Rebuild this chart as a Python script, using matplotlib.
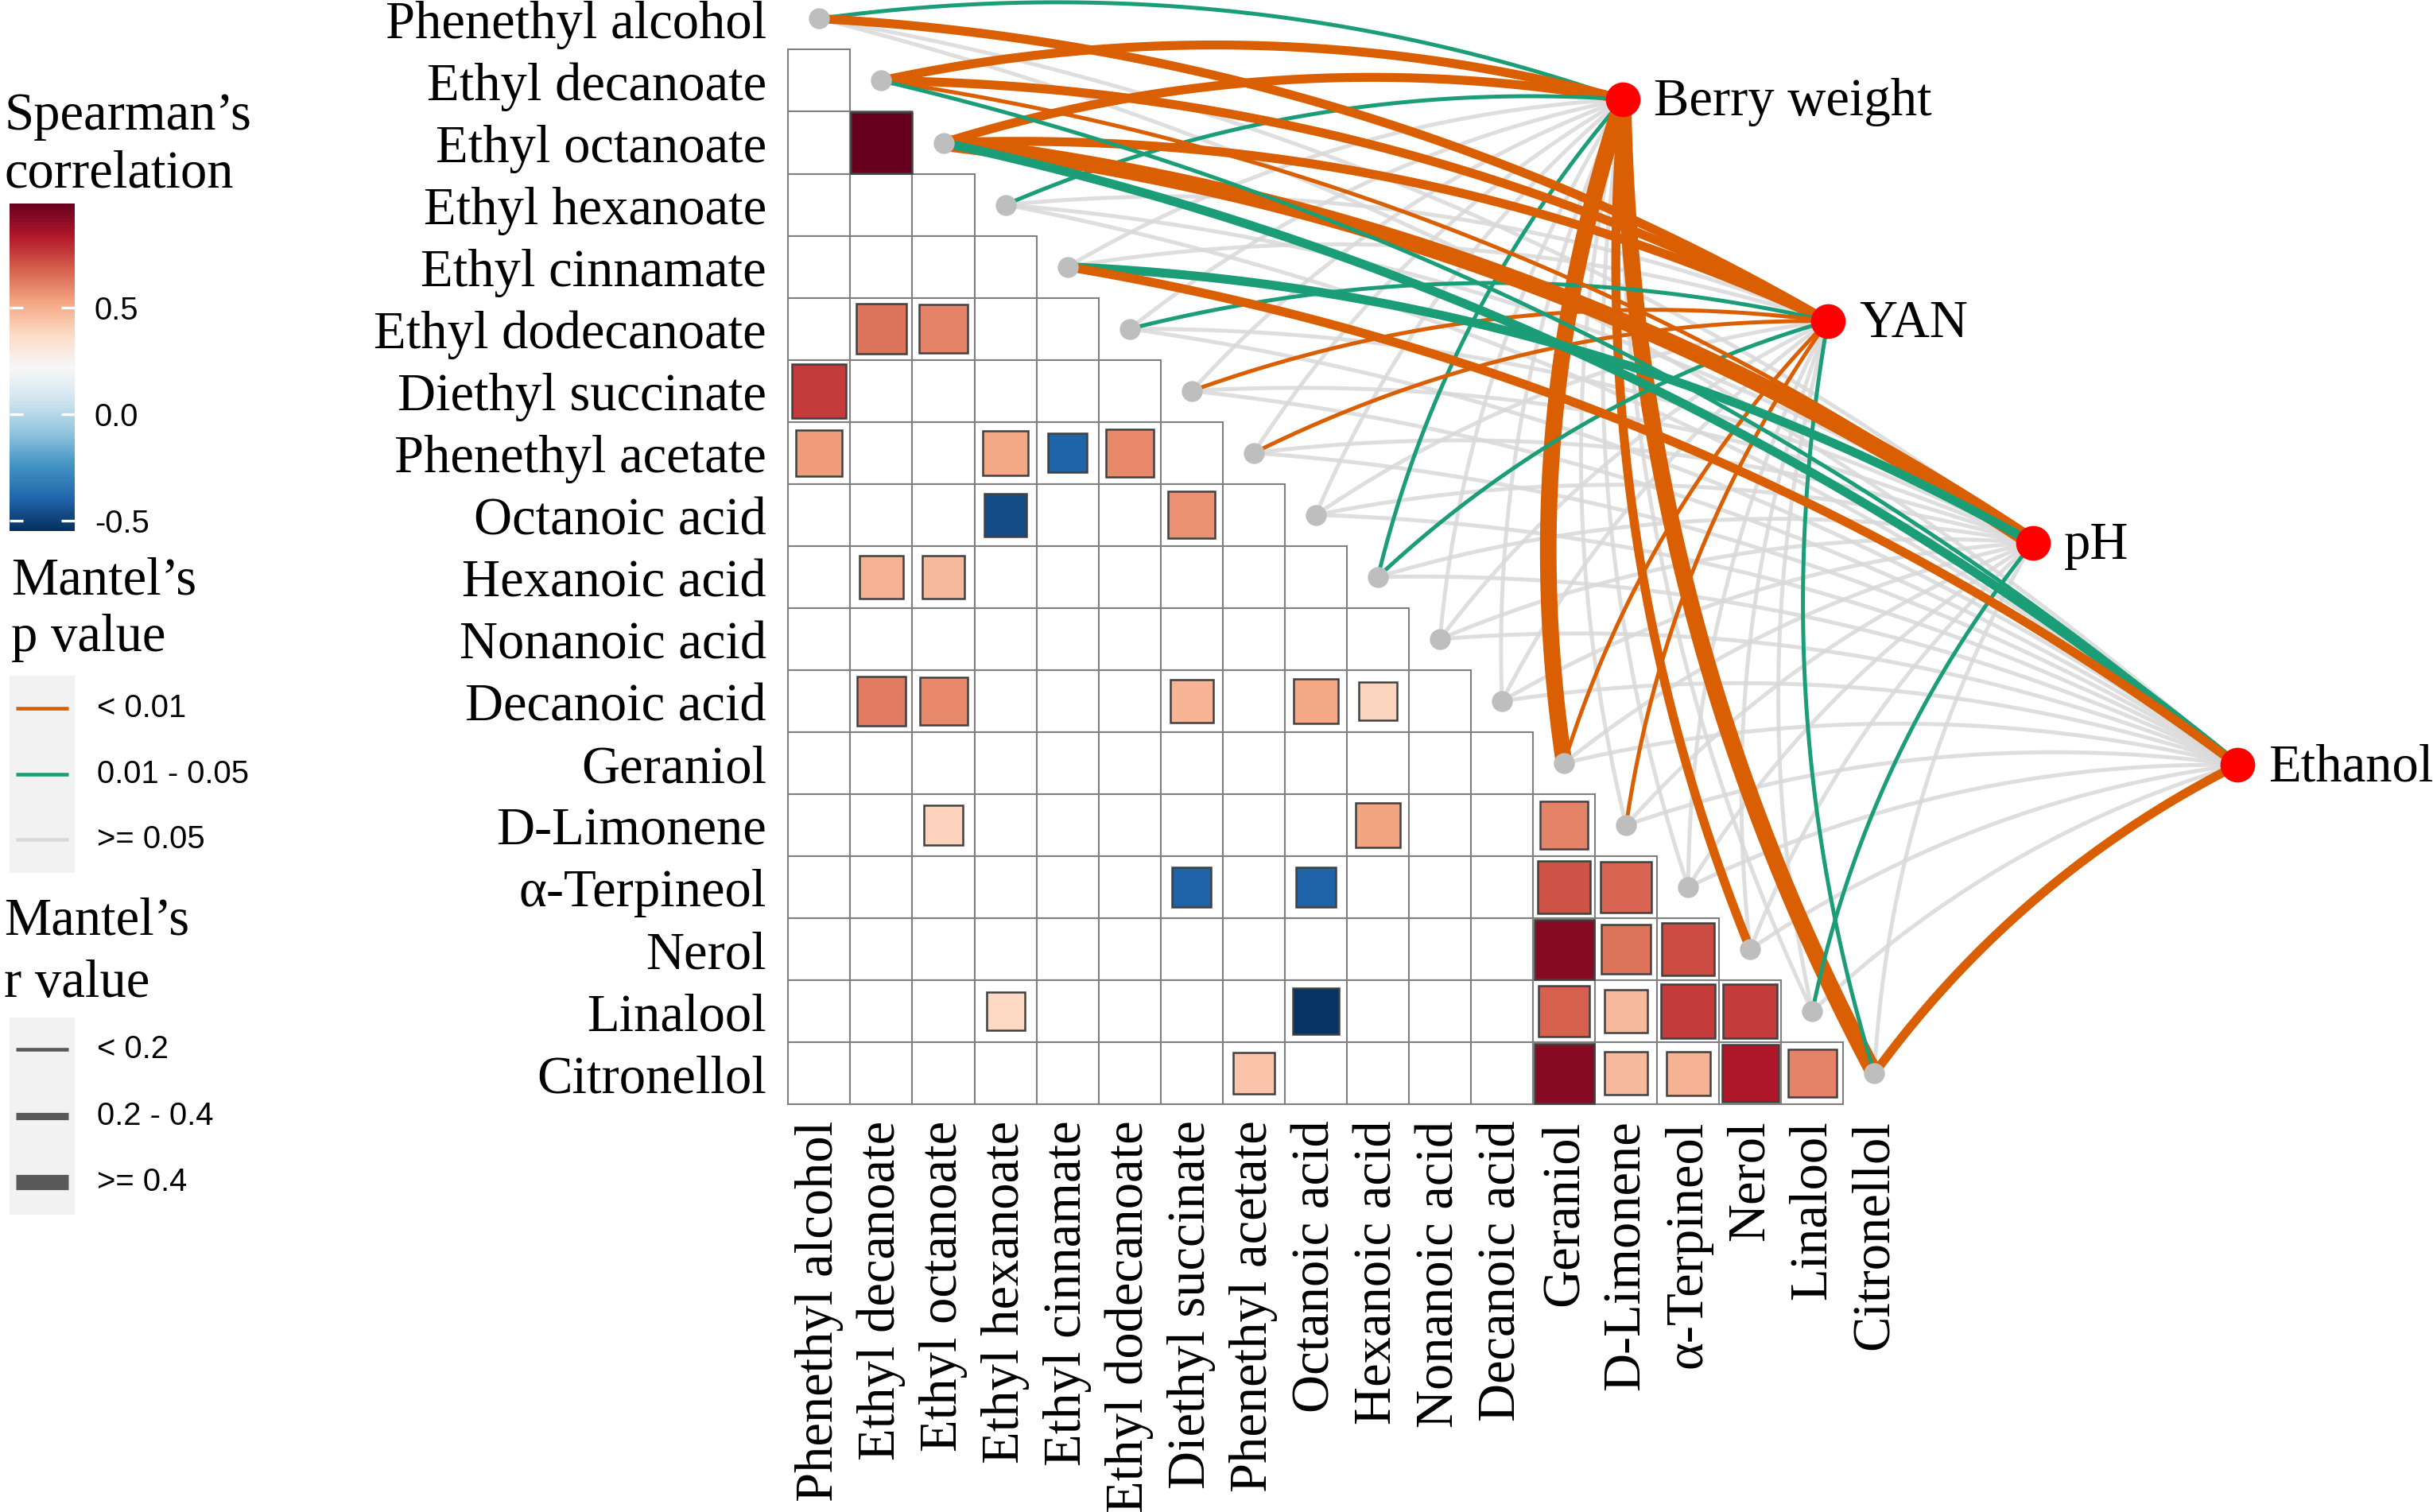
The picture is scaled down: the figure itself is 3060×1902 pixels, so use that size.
import numpy as np
import matplotlib
matplotlib.use("Agg")
import matplotlib.pyplot as plt
from matplotlib.patches import Rectangle
from matplotlib.colors import Normalize
from matplotlib.cm import ScalarMappable

plt.rcParams['font.family'] = ['Liberation Serif', 'DejaVu Serif']

species = ["Phenethyl alcohol", "Ethyl decanoate", "Ethyl octanoate", "Ethyl hexanoate",
           "Ethyl cinnamate", "Ethyl dodecanoate", "Diethyl succinate", "Phenethyl acetate",
           "Octanoic acid", "Hexanoic acid", "Nonanoic acid", "Decanoic acid", "Geraniol",
           "D-Limonene", "α-Terpineol", "Nerol", "Linalool", "Citronellol"]
env_names = ["Berry weight", "YAN", "pH", "Ethanol"]

# significant spearman correlations in the lower triangle
corr_row = [2, 5, 5, 6, 7, 7, 7, 7, 8, 8, 9, 9, 11, 11, 11, 11, 11,
            13, 13, 13, 14, 14, 14, 14, 15, 15, 15, 16, 16, 16, 16, 16, 16,
            17, 17, 17, 17, 17, 17]
corr_col = [1, 1, 2, 0, 0, 3, 4, 5, 3, 6, 1, 2, 1, 2, 6, 8, 9,
            2, 9, 12, 6, 8, 12, 13, 12, 13, 14, 3, 8, 12, 13, 14, 15,
            7, 12, 13, 14, 15, 16]
corr_r = [0.99, 0.64, 0.60, 0.76, 0.55, 0.52, -0.40, 0.59, -0.47, 0.57, 0.49, 0.47,
          0.62, 0.59, 0.48, 0.52, 0.39,
          0.40, 0.53, 0.60, -0.40, -0.40, 0.71, 0.67, 0.92, 0.64, 0.72,
          0.38, -0.54, 0.68, 0.47, 0.76, 0.76,
          0.44, 0.92, 0.47, 0.49, 0.84, 0.60]

# mantel test p and r, one value per species (order as above)
p_berry = [0.03, 0.005, 0.005, 0.03, 0.2, 0.2, 0.2, 0.2, 0.2, 0.03, 0.2, 0.2,
           0.001, 0.2, 0.2, 0.005, 0.2, 0.001]
r_berry = [0.15, 0.3, 0.3, 0.15, 0.1, 0.1, 0.1, 0.1, 0.1, 0.15, 0.1, 0.1,
           0.45, 0.1, 0.1, 0.3, 0.1, 0.45]
p_yan = [0.005, 0.005, 0.005, 0.2, 0.2, 0.03, 0.008, 0.008, 0.2, 0.03, 0.2, 0.2,
         0.008, 0.008, 0.2, 0.2, 0.2, 0.03]
r_yan = [0.3, 0.3, 0.3, 0.1, 0.1, 0.15, 0.15, 0.15, 0.1, 0.15, 0.1, 0.1,
         0.15, 0.15, 0.1, 0.1, 0.1, 0.15]
p_ph = [0.2, 0.008, 0.001, 0.2, 0.03, 0.2, 0.2, 0.2, 0.2, 0.2, 0.2, 0.2,
        0.2, 0.2, 0.2, 0.2, 0.03, 0.2]
r_ph = [0.1, 0.15, 0.45, 0.1, 0.3, 0.1, 0.1, 0.1, 0.1, 0.1, 0.1, 0.1,
        0.1, 0.1, 0.1, 0.1, 0.15, 0.1]
p_ethanol = [0.2, 0.03, 0.03, 0.2, 0.005, 0.2, 0.2, 0.2, 0.2, 0.2, 0.2, 0.2,
             0.2, 0.2, 0.2, 0.2, 0.2, 0.005]
r_ethanol = [0.1, 0.15, 0.3, 0.1, 0.3, 0.1, 0.1, 0.1, 0.1, 0.1, 0.1, 0.1,
             0.1, 0.1, 0.1, 0.1, 0.1, 0.3]

p_all = [p_berry, p_yan, p_ph, p_ethanol]
r_all = [r_berry, r_yan, r_ph, r_ethanol]

W, H = 3060, 1902
fig = plt.figure(figsize=(W / 300, H / 300), dpi=300)
ax = fig.add_axes([0, 0, 1, 1])
ax.set_xlim(-13.2, 26.0)
ax.set_ylim(24.07, -0.30)
ax.axis("off")

cmap = plt.get_cmap("RdBu_r")
norm = Normalize(vmin=-0.55, vmax=0.99)

n = len(species)
# grid of the lower triangle
for i in range(1, n):
    for j in range(i):
        ax.add_patch(Rectangle((j - 0.5, i - 0.5), 1, 1, fc="white", ec="#7f7f7f", lw=0.5, zorder=1))

for i, j, r in zip(corr_row, corr_col, corr_r):
    s = np.sqrt(abs(r))
    ax.add_patch(Rectangle((j - s / 2, i - s / 2), s, s, fc=cmap(norm(r)),
                           ec="#404040", lw=0.6, zorder=2))

for i, name in enumerate(species):
    ax.text(-0.85, i + 0.1, name, ha="right", va="center", fontsize=16)
    ax.text(i, 17.76, name, ha="center", va="top", rotation=90, fontsize=16)

env_x = [12.95, 16.25, 19.55, 22.85]
env_y = [1.3, 4.875, 8.45, 12.03]

col_p = {"a": "#D95F02", "b": "#1B9E77", "c": "#D9D9D9"}
lw_r = {"a": 1.2, "b": 2.7, "c": 5.0}


def p_cat(p):
    return "a" if p < 0.01 else ("b" if p < 0.05 else "c")


def r_cat(r):
    return "a" if r < 0.2 else ("b" if r < 0.4 else "c")


def curve(x0, y0, x1, y1, k=0.12):
    dx, dy = x1 - x0, y1 - y0
    cx = (x0 + x1) / 2 + k * dy
    cy = (y0 + y1) / 2 - k * dx
    t = np.linspace(0, 1, 80)
    xs = (1 - t) ** 2 * x0 + 2 * (1 - t) * t * cx + t ** 2 * x1
    ys = (1 - t) ** 2 * y0 + 2 * (1 - t) * t * cy + t ** 2 * y1
    return xs, ys


for layer in ["c", "ab"]:
    for e in range(4):
        for i in range(n):
            pc = p_cat(p_all[e][i])
            if pc not in layer:
                continue
            xs, ys = curve(i, i, env_x[e], env_y[e])
            ax.plot(xs, ys, color=col_p[pc], lw=lw_r[r_cat(r_all[e][i])],
                    solid_capstyle="butt", alpha=0.85 if pc == "c" else 1,
                    zorder=3 if pc == "c" else 4)

ax.scatter(range(n), range(n), s=40, color="#BEBEBE", zorder=5, linewidths=0)
ax.scatter(env_x, env_y, s=110, color="#FF0000", zorder=6, linewidths=0)
for x, y, name in zip(env_x, env_y, env_names):
    ax.text(x + 0.5, y + 0.05, name, ha="left", va="center", fontsize=16)


# legends, placed in pixel positions
def fx(x):
    return x / W


def fy(y):
    return 1 - y / H


sans = ["Liberation Sans", "DejaVu Sans"]
fig.text(fx(5), fy(163), "Spearman’s", fontsize=16, va="baseline")
fig.text(fx(5), fy(235), "correlation", fontsize=16, va="baseline")

cax = fig.add_axes([fx(12), fy(668), fx(82), (668 - 256) / H])
cb = fig.colorbar(ScalarMappable(norm=norm, cmap=cmap), cax=cax)
cb.outline.set_visible(False)
cb.set_ticks([-0.5, 0.0, 0.5])
cb.set_ticklabels(["-0.5", "0.0", "0.5"])
cax.tick_params(direction="in", color="white", length=4, width=0.8,
                left=True, right=True, labelleft=False, labelright=True, pad=6)
for lab in cax.get_yticklabels():
    lab.set_fontfamily(sans)
    lab.set_fontsize(9.6)

fig.text(fx(14), fy(747), "Mantel’s", fontsize=16, va="baseline")
fig.text(fx(14), fy(819), "p value", fontsize=16, va="baseline")
fig.patches.append(Rectangle((fx(12), fy(1098)), fx(82), (1098 - 850) / H,
                             transform=fig.transFigure, fc="#F2F2F2", ec="none"))
p_labels = ["< 0.01", "0.01 - 0.05", ">= 0.05"]
for yy, cat, lab in zip([891, 974, 1056], ["a", "b", "c"], p_labels):
    fig.lines.append(plt.Line2D([fx(20), fx(86)], [fy(yy), fy(yy)], transform=fig.transFigure,
                                color=col_p[cat], lw=1.1, solid_capstyle="butt"))
    fig.text(fx(122), fy(yy), lab, fontsize=9.6, va="center", family=sans)

fig.text(fx(5), fy(1176), "Mantel’s", fontsize=16, va="baseline")
fig.text(fx(5), fy(1254), "r value", fontsize=16, va="baseline")
fig.patches.append(Rectangle((fx(12), fy(1528)), fx(82), (1528 - 1280) / H,
                             transform=fig.transFigure, fc="#F2F2F2", ec="none"))
r_labels = ["< 0.2", "0.2 - 0.4", ">= 0.4"]
for yy, cat, lab in zip([1320, 1404, 1487], ["a", "b", "c"], r_labels):
    fig.lines.append(plt.Line2D([fx(20), fx(86)], [fy(yy), fy(yy)], transform=fig.transFigure,
                                color="#595959", lw=[1.1, 2.2, 4.6][["a", "b", "c"].index(cat)],
                                solid_capstyle="butt"))
    fig.text(fx(122), fy(yy), lab, fontsize=9.6, va="center", family=sans)

fig.savefig("out.png", dpi=300)
